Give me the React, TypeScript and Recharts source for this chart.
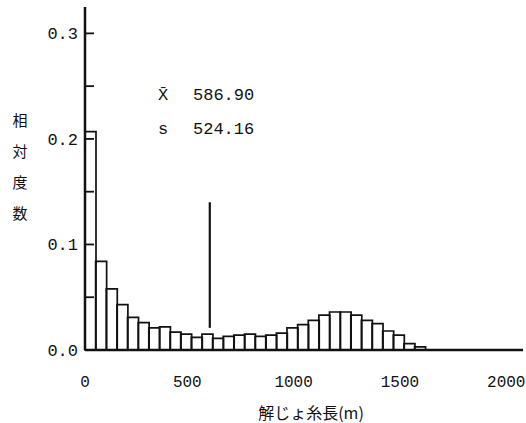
import React from 'react';
import { ComposedChart, Bar, XAxis, YAxis, ReferenceLine } from 'recharts';

// 50 m bins, value = bin midpoint
const binCenters = [
  25, 75, 125, 175, 225, 275, 325, 375, 425, 475, 525, 575, 625, 675, 725, 775,
  825, 875, 925, 975, 1025, 1075, 1125, 1175, 1225, 1275, 1325, 1375, 1425, 1475, 1525, 1575,
];
const relFreq = [
  0.207, 0.084, 0.058, 0.043, 0.031, 0.026, 0.021, 0.022, 0.017, 0.015, 0.012, 0.015, 0.011, 0.013, 0.014, 0.015,
  0.013, 0.014, 0.016, 0.021, 0.024, 0.028, 0.033, 0.036, 0.036, 0.033, 0.028, 0.025, 0.018, 0.014, 0.006, 0.003,
];

const xTicks = [0, 500, 1000, 1500, 2000];
const yTicks = [0, 0.05, 0.1, 0.15, 0.2, 0.25, 0.3];
const yLabelled = [0, 0.1, 0.2, 0.3];

const MEAN = 586.9;
const SD = 524.16;
// vertical extent of the mean marker, in frequency units
const meanMarkFrom = 0.021;
const meanMarkTo = 0.14;

const yTitle = ['相', '対', '度', '数'];
const xTitle = '解じょ糸長(m)';

const MONO = '"Liberation Mono", "DejaVu Sans Mono", monospace';
const CJK = '"Noto Sans CJK JP", "Noto Sans CJK SC", sans-serif';
const INK = '#111';
const Y_AXIS_W = 85;

const data = binCenters.map((x, i) => ({ x, f: relFreq[i] }));

// y ticks point into the plot; only every other one carries a label
function YTick(props: any) {
  const { y, payload } = props;
  const v = payload.value as number;
  return (
    <g>
      <line x1={Y_AXIS_W} x2={Y_AXIS_W + 9} y1={y} y2={y} stroke={INK} strokeWidth={1.8} />
      {yLabelled.includes(v) && (
        <text x={Y_AXIS_W - 7} y={y} dy="0.35em" textAnchor="end" fontFamily={MONO} fontSize={17} fill={INK}>
          {v.toFixed(1)}
        </text>
      )}
    </g>
  );
}

function XTick(props: any) {
  const { x, y, payload } = props;
  const v = payload.value as number;
  return (
    <text x={v === 0 ? x : x - 4} y={y} dy="0.71em" textAnchor="middle" fontFamily={MONO} fontSize={16} fill={INK}>
      {v}
    </text>
  );
}

function Annotations() {
  return (
    <g>
      {yTitle.map((ch, i) => (
        <text key={ch} x={20} y={126 + i * 31} textAnchor="middle" fontFamily={CJK} fontSize={15} fill={INK}>
          {ch}
        </text>
      ))}
      <text x={158} y={100} fontFamily={MONO} fontSize={17} fill={INK}>
        X̄
      </text>
      <text x={193} y={100} fontFamily={MONO} fontSize={17} fill={INK}>
        {MEAN.toFixed(2)}
      </text>
      <text x={158} y={134} fontFamily={MONO} fontSize={17} fill={INK}>
        s
      </text>
      <text x={193} y={134} fontFamily={MONO} fontSize={17} fill={INK}>
        {SD.toFixed(2)}
      </text>
      <text x={311} y={419} textAnchor="middle" fontFamily={CJK} fontSize={16} fill={INK}>
        {xTitle}
      </text>
    </g>
  );
}

export default function App() {
  return (
    <div style={{ position: 'absolute', left: 0, top: 0, width: 526, height: 423, background: '#fff' }}>
      <ComposedChart
        width={526}
        height={423}
        data={data}
        margin={{ top: 7, right: 3, bottom: 13, left: 0 }}
        barCategoryGap={0}
        barGap={0}
      >
        <Bar dataKey="f" fill="none" stroke={INK} strokeWidth={1.7} isAnimationActive={false} />
        <ReferenceLine
          segment={[
            { x: MEAN, y: meanMarkFrom },
            { x: MEAN, y: meanMarkTo },
          ]}
          stroke={INK}
          strokeWidth={2.2}
        />
        <XAxis
          dataKey="x"
          type="number"
          domain={[0, 2060]}
          ticks={xTicks}
          interval={0}
          height={60}
          tickLine={false}
          tickSize={0}
          tickMargin={26}
          axisLine={{ stroke: INK, strokeWidth: 2.5 }}
          tick={<XTick />}
        />
        <YAxis
          type="number"
          domain={[0, 0.325]}
          ticks={yTicks}
          interval={0}
          width={Y_AXIS_W}
          tickLine={false}
          axisLine={{ stroke: INK, strokeWidth: 2.5 }}
          tick={<YTick />}
          label={<Annotations />}
        />
      </ComposedChart>
    </div>
  );
}
